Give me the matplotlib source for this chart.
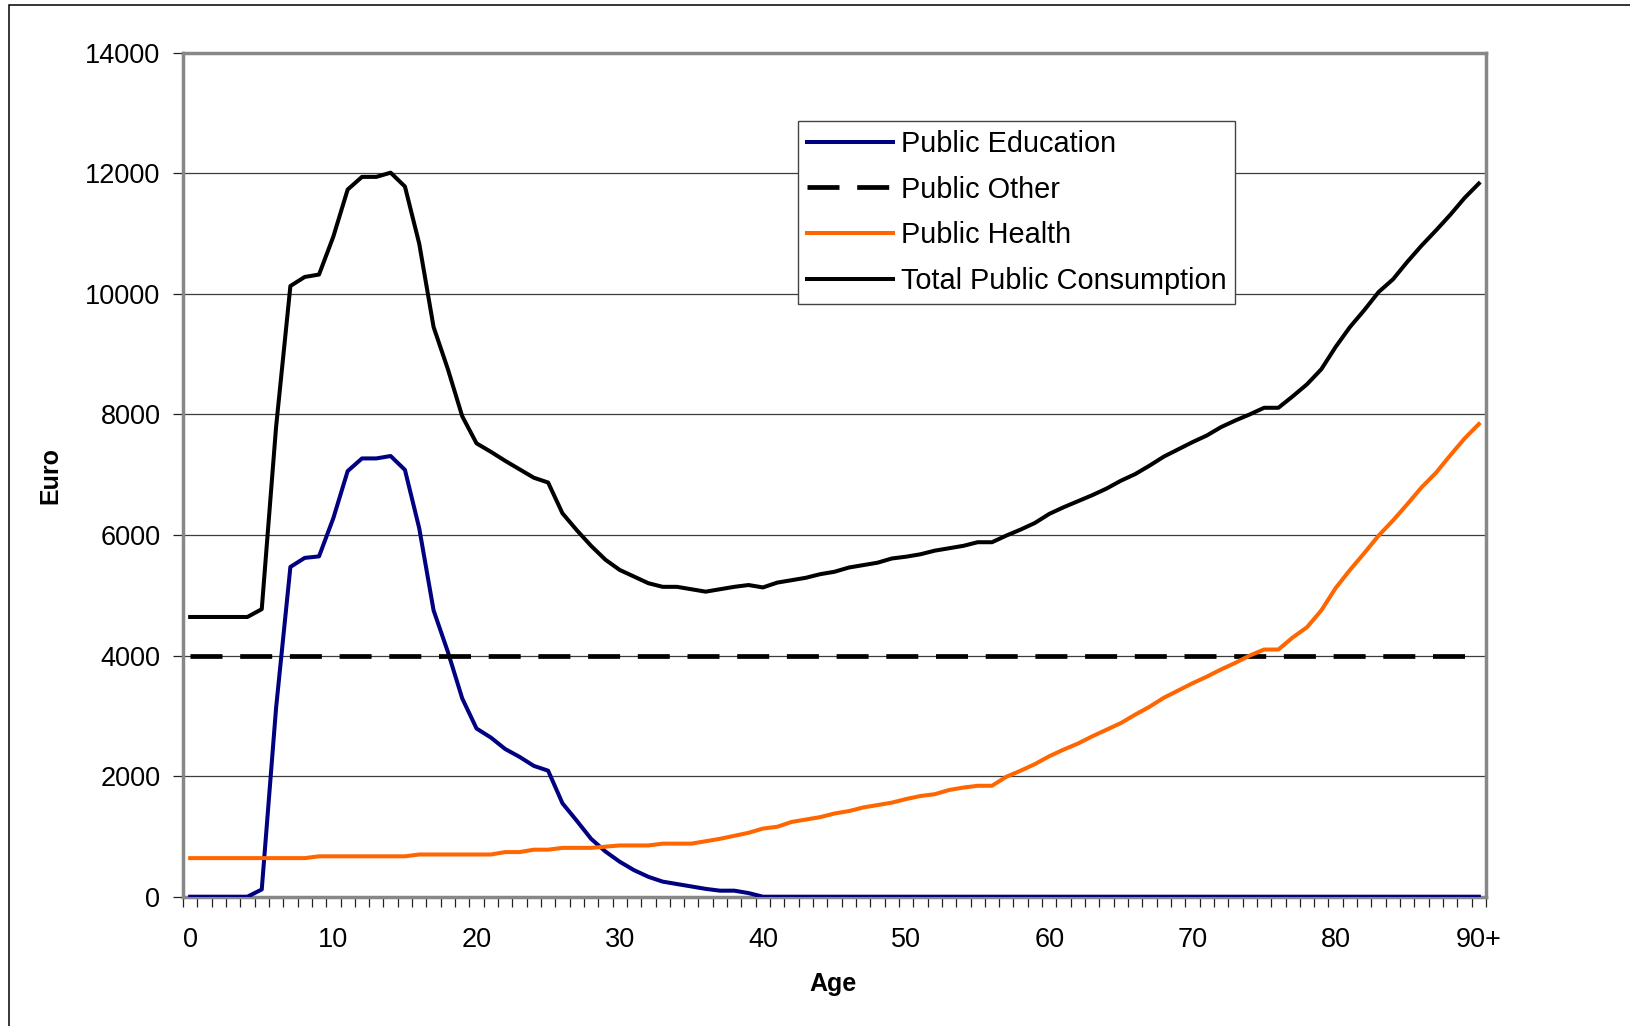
import matplotlib
matplotlib.use("Agg")
import matplotlib.pyplot as plt
from matplotlib.patches import Rectangle
from matplotlib.ticker import FixedLocator

plt.rcParams['font.family'] = ['Liberation Sans', 'DejaVu Sans']

# Age groups 0..90 (last one is 90+)
ages = list(range(91))
tick_positions = [0, 10, 20, 30, 40, 50, 60, 70, 80, 90]
tick_labels = ['0', '10', '20', '30', '40', '50', '60', '70', '80', '90+']

# Per-capita public consumption by age (Euro)
public_education = (
    [0, 0, 0, 0, 0, 120, 3130, 5470, 5620, 5645,
     6280, 7060, 7270, 7270, 7310, 7080, 6110, 4750, 4060, 3290,
     2790, 2640, 2450, 2320, 2170, 2090, 1550, 1260, 960, 750,
     580, 440, 330, 250, 210, 170, 130, 100, 100, 60]
    + [0] * 51
)

public_other = [4000] * 91

public_health = (
    [640] * 9 + [670] * 7 + [700] * 6 + [740] * 2 + [780] * 2 + [810] * 3
    + [830] + [850] * 3 + [880] * 3
    + [920, 960, 1010, 1060, 1130, 1160, 1240, 1280, 1320, 1380,
       1420, 1480, 1520, 1560, 1620, 1670, 1700, 1770, 1810, 1840,
       1840, 1990, 2090, 2200, 2330, 2440, 2540, 2660, 2770, 2880,
       3020, 3150, 3300, 3420, 3540, 3650, 3770, 3880, 4000, 4100,
       4100, 4300, 4470, 4750, 5120, 5420, 5700, 5990, 6240, 6510,
       6790, 7030, 7320, 7600, 7840]
)

total_public = (
    [4640] * 5
    + [4770, 7790, 10130, 10280, 10320,
       10950, 11730, 11940, 11940, 12010, 11780, 10830, 9450, 8750, 7970,
       7520, 7380, 7230, 7090, 6950, 6870, 6360, 6080, 5820, 5590,
       5420, 5310, 5200, 5140, 5140, 5100, 5060, 5100, 5140, 5170,
       5130, 5210, 5250, 5290, 5350, 5390, 5460, 5500, 5540, 5610,
       5640, 5680, 5740, 5780, 5820, 5880, 5880, 5990, 6090, 6200,
       6350, 6460, 6560, 6660, 6770, 6900, 7010, 7150, 7300, 7420,
       7540, 7650, 7790, 7900, 8000, 8110, 8110, 8300, 8500, 8750,
       9120, 9450, 9730, 10030, 10240, 10530, 10800, 11050, 11310, 11590,
       11830]
)

W, H = 1631, 1026
fig = plt.figure(figsize=(W / 100, H / 100), dpi=100)
fig.patch.set_facecolor('white')

left, right, top, bottom = 183, 1486, 52.7, 896.7
ax = fig.add_axes([left / W, 1 - bottom / H, (right - left) / W, (bottom - top) / H])

lw = 2.9
ax.plot(ages, public_education, color='#000080', lw=lw, solid_joinstyle='round',
        label='Public Education', zorder=3)
dash_lw = 3.4
dash_px = dash_lw * 100 / 72
ax.plot(ages, public_other, color='black', lw=dash_lw,
        dashes=(32 / dash_px, 17.7 / dash_px), dash_capstyle='butt',
        label='Public Other', zorder=3)
ax.plot(ages, public_health, color='#FF6600', lw=lw, solid_joinstyle='round',
        label='Public Health', zorder=3)
ax.plot(ages, total_public, color='black', lw=lw, solid_joinstyle='round',
        label='Total Public Consumption', zorder=3)

ax.set_xlim(-0.5, 90.5)
ax.set_ylim(0, 14000)

# y axis
ax.set_yticks(range(0, 14001, 2000))
ax.set_yticklabels([str(v) for v in range(0, 14001, 2000)])
ax.yaxis.grid(True, color='#3c3c3c', lw=0.9)
ax.set_axisbelow(True)
ax.tick_params(axis='y', which='major', direction='out', length=7.2, width=0.9,
               color='#222222', pad=9, labelsize=19.5)

# x axis: category boundary ticks, labels every 10 years
ax.set_xticks(tick_positions)
ax.set_xticklabels(tick_labels)
ax.xaxis.set_minor_locator(FixedLocator([a - 0.5 for a in ages] + [90.5]))
ax.tick_params(axis='x', which='major', length=0, pad=21.5, labelsize=19.5)
ax.tick_params(axis='x', which='minor', direction='out', length=7.2, width=0.9,
               color='#222222')

for s in ax.spines.values():
    s.set_color('#878787')
    s.set_linewidth(2.5)

fig.text(50.5 / W, 1 - 475 / H, 'Euro', rotation=90, ha='center', va='center',
         fontsize=18, fontweight='bold')
fig.text(833 / W, 1 - 984 / H, 'Age', ha='center', va='center',
         fontsize=18, fontweight='bold')

leg = ax.legend(loc='upper left', bbox_to_anchor=(798 / W, 1 - 121 / H),
                bbox_transform=fig.transFigure, borderaxespad=0,
                frameon=True, fancybox=False, framealpha=1, edgecolor='#444444',
                fontsize=20.8, handlelength=3.0, handletextpad=0.25,
                labelspacing=0.62, borderpad=0.3)
leg.get_frame().set_linewidth(1.0)
leg.set_zorder(5)

# outer chart border
fig.add_artist(Rectangle((9.5 / W, -0.1), 2.0, 1.1 - 5.5 / H,
                         transform=fig.transFigure, fill=False,
                         ec='black', lw=1.1))

fig.savefig('out.png', dpi=100, facecolor='white')
